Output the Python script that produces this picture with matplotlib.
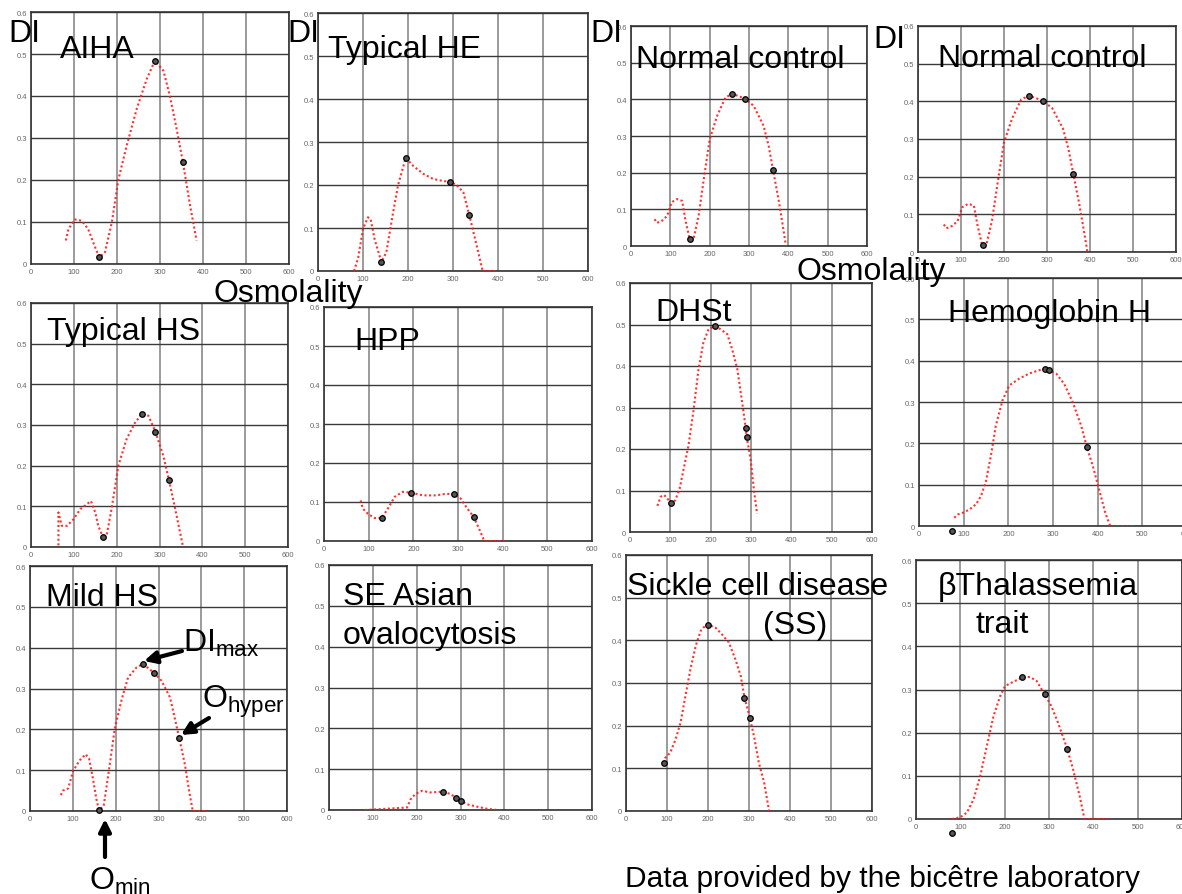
import matplotlib
matplotlib.use("Agg")
import matplotlib.pyplot as plt

plt.rcParams['font.family'] = ['Liberation Sans', 'DejaVu Sans']
plt.rcParams['mathtext.fontset'] = 'custom'
plt.rcParams['mathtext.rm'] = 'Liberation Sans'
plt.rcParams['mathtext.it'] = 'Liberation Sans'

W, H = 1182, 895

x_ticks = [0, 100, 200, 300, 400, 500, 600]
y_ticks = [0, 0.1, 0.2, 0.3, 0.4, 0.5, 0.6]
y_labels = ['0', '0.1', '0.2', '0.3', '0.4', '0.5', '0.6']

# --- data: osmolality (x) vs DI (y) ---
aiha_x = [81, 87, 102, 118, 133, 149, 159, 172, 188, 203, 222, 246, 269, 288, 308, 323, 339, 353, 370, 385]
aiha_y = [0.056, 0.083, 0.106, 0.103, 0.083, 0.040, 0.016, 0.028, 0.099, 0.200, 0.280, 0.370, 0.440, 0.484, 0.460, 0.400, 0.320, 0.244, 0.139, 0.056]
aiha_kx = [159, 288, 353]
aiha_ky = [0.016, 0.484, 0.244]

he_x = [80, 89, 100, 111, 117, 126, 141, 152, 167, 178, 195, 212, 234, 256, 279, 293, 308, 323, 336, 349, 363, 366, 395]
he_y = [0.0, 0.029, 0.098, 0.125, 0.120, 0.073, 0.021, 0.044, 0.137, 0.200, 0.263, 0.244, 0.226, 0.214, 0.209, 0.208, 0.200, 0.183, 0.131, 0.075, 0.013, 0.0, 0.0]
he_kx = [141, 195, 293, 336]
he_ky = [0.021, 0.263, 0.208, 0.131]

nc_x = [60, 66, 79, 92, 103, 117, 130, 138, 149, 159, 172, 185, 200, 219, 240, 258, 290, 312, 337, 350, 361, 375, 386, 394]
nc_y = [0.073, 0.063, 0.069, 0.082, 0.119, 0.128, 0.123, 0.073, 0.019, 0.019, 0.083, 0.182, 0.291, 0.355, 0.405, 0.415, 0.402, 0.382, 0.328, 0.273, 0.208, 0.128, 0.055, 0.0]
nc_kx = [150, 258, 290, 361]
nc_ky = [0.019, 0.415, 0.402, 0.208]

hs_x = [64, 64, 72, 84, 99, 115, 130, 140, 150, 157, 167, 177, 188, 204, 223, 243, 260, 274, 290, 309, 322, 336, 355]
hs_y = [0.004, 0.085, 0.052, 0.052, 0.068, 0.093, 0.105, 0.113, 0.085, 0.052, 0.027, 0.031, 0.093, 0.200, 0.265, 0.306, 0.328, 0.323, 0.285, 0.224, 0.165, 0.097, 0.0]
hs_kx = [167, 260, 290, 322]
hs_ky = [0.025, 0.328, 0.283, 0.165]

hpp_x = [82, 87, 98, 113, 129, 143, 158, 176, 195, 221, 251, 273, 290, 306, 321, 335, 347, 356, 358, 405]
hpp_y = [0.104, 0.083, 0.070, 0.059, 0.059, 0.083, 0.113, 0.126, 0.124, 0.117, 0.117, 0.121, 0.120, 0.109, 0.083, 0.062, 0.032, 0.008, 0.0, 0.0]
hpp_kx = [129, 195, 290, 335]
hpp_ky = [0.059, 0.123, 0.120, 0.062]

dhst_x = [68, 76, 85, 93, 102, 112, 123, 133, 145, 158, 170, 182, 195, 210, 224, 241, 253, 266, 278, 287, 289, 299, 307, 315]
dhst_y = [0.063, 0.085, 0.089, 0.080, 0.070, 0.076, 0.104, 0.152, 0.208, 0.297, 0.393, 0.457, 0.489, 0.496, 0.489, 0.477, 0.441, 0.393, 0.313, 0.250, 0.231, 0.176, 0.104, 0.044]
dhst_kx = [102, 210, 287, 289]
dhst_ky = [0.070, 0.496, 0.250, 0.230]

hbh_x = [79, 87, 98, 113, 128, 139, 150, 161, 172, 187, 202, 225, 247, 269, 281, 290, 307, 325, 344, 363, 376, 389, 404, 417, 428, 482]
hbh_y = [0.020, 0.028, 0.032, 0.040, 0.053, 0.073, 0.109, 0.170, 0.243, 0.304, 0.340, 0.357, 0.369, 0.377, 0.379, 0.377, 0.369, 0.344, 0.300, 0.243, 0.190, 0.146, 0.085, 0.032, 0.0, 0.0]
hbh_kx = [74, 281, 290, 376]
hbh_ky = [-0.013, 0.379, 0.377, 0.190]

mild_x = [72, 77, 89, 101, 116, 130, 138, 147, 155, 161, 172, 186, 198, 214, 229, 249, 264, 290, 307, 327, 348, 362, 372, 380, 411]
mild_y = [0.039, 0.050, 0.055, 0.099, 0.124, 0.139, 0.128, 0.079, 0.029, 0.002, 0.012, 0.112, 0.203, 0.273, 0.327, 0.352, 0.360, 0.338, 0.319, 0.278, 0.181, 0.112, 0.046, 0.0, 0.0]
mild_kx = [161, 264, 290, 348]
mild_ky = [0.002, 0.360, 0.338, 0.180]

sao_x = [82, 178, 186, 197, 212, 231, 247, 261, 277, 290, 301, 315, 338, 361, 384, 390]
sao_y = [0.0, 0.006, 0.026, 0.039, 0.047, 0.043, 0.044, 0.045, 0.039, 0.030, 0.022, 0.014, 0.008, 0.003, 0.0, 0.0]
sao_kx = [261, 290, 301]
sao_ky = [0.045, 0.030, 0.022]

ss_x = [92, 96, 108, 121, 133, 145, 157, 170, 182, 194, 200, 218, 234, 251, 267, 280, 289, 302, 312, 324, 337, 349]
ss_y = [0.113, 0.125, 0.137, 0.168, 0.207, 0.270, 0.332, 0.387, 0.422, 0.435, 0.437, 0.430, 0.414, 0.395, 0.355, 0.316, 0.266, 0.219, 0.176, 0.113, 0.066, 0.0]
ss_kx = [92, 200, 289, 302]
ss_ky = [0.113, 0.437, 0.266, 0.219]

bthal_x = [81, 100, 115, 130, 145, 160, 175, 190, 201, 216, 240, 257, 272, 290, 305, 320, 341, 354, 369, 380, 433]
bthal_y = [0.0, 0.004, 0.015, 0.046, 0.100, 0.170, 0.239, 0.285, 0.308, 0.316, 0.328, 0.329, 0.320, 0.289, 0.262, 0.224, 0.163, 0.116, 0.054, 0.0, 0.0]
bthal_kx = [81, 240, 290, 341]
bthal_ky = [-0.032, 0.328, 0.289, 0.163]

# panel boxes in pixels: left, right, top, bottom
panels = [
    ((31, 289, 13, 265), aiha_x, aiha_y, aiha_kx, aiha_ky),
    ((318, 588, 14, 272), he_x, he_y, he_kx, he_ky),
    ((631, 867, 27, 247), nc_x, nc_y, nc_kx, nc_ky),
    ((918, 1176, 27, 253), nc_x, nc_y, nc_kx, nc_ky),
    ((31, 288, 304, 548), hs_x, hs_y, hs_kx, hs_ky),
    ((324, 592, 308, 542), hpp_x, hpp_y, hpp_kx, hpp_ky),
    ((630, 872, 284, 533), dhst_x, dhst_y, dhst_kx, dhst_ky),
    ((919, 1187, 279, 527), hbh_x, hbh_y, hbh_kx, hbh_ky),
    ((30, 287, 567, 812), mild_x, mild_y, mild_kx, mild_ky),
    ((329, 592, 566, 811), sao_x, sao_y, sao_kx, sao_ky),
    ((626, 872, 556, 812), ss_x, ss_y, ss_kx, ss_ky),
    ((916, 1182, 561, 820), bthal_x, bthal_y, bthal_kx, bthal_ky),
]


def fpos(x, y):
    return x / W, 1 - y / H


fig = plt.figure(figsize=(W / 100, H / 100), dpi=100)

for (l, r, t, b), xs, ys, kx, ky in panels:
    ax = fig.add_axes([l / W, 1 - b / H, (r - l) / W, (b - t) / H])
    ax.set_xlim(0, 600)
    ax.set_ylim(0, 0.6)
    ax.set_xticks(x_ticks)
    ax.set_yticks(y_ticks)
    ax.set_yticklabels(y_labels)
    ax.tick_params(length=0, labelsize=5.5, labelcolor='#666666', pad=3)
    ax.xaxis.grid(True, color='#8a8a8a', lw=1.2)
    ax.yaxis.grid(True, color='#3a3a3a', lw=1.0)
    ax.set_axisbelow(True)
    for s in ax.spines.values():
        s.set_color('#333333')
        s.set_linewidth(1.2)
    ax.plot(xs, ys, color='#ff1a1a', lw=1.5, ls=(0, (1, 1.2)), alpha=0.9, zorder=3)
    ax.plot(kx, ky, 'o', ms=4, mfc='#555555', mec='black', mew=0.9, zorder=4, clip_on=False)

fs = 23
# axis words
for x, y in [(8, 42), (287, 42), (590, 42), (873, 48)]:
    fig.text(*fpos(x, y), 'DI', fontsize=fs, va='baseline')
fig.text(*fpos(213, 302), 'Osmolality', fontsize=fs, va='baseline')
fig.text(*fpos(797, 280), 'Osmolality', fontsize=fs, va='baseline')

# panel titles
titles = [
    (60, 58, 'AIHA'), (328, 58, 'Typical HE'), (636, 68, 'Normal control'),
    (938, 67, 'Normal control'), (47, 340, 'Typical HS'), (354, 350, 'HPP'),
    (655, 321, 'DHSt'), (948, 322, 'Hemoglobin H'), (46, 606, 'Mild HS'),
    (343, 605, 'SE Asian'), (343, 644, 'ovalocytosis'),
    (627, 595, 'Sickle cell disease'), (763, 634, '(SS)'),
    (938, 595, '\u03b2Thalassemia'), (975, 633, 'trait'),
]
for x, y, s in titles:
    fig.text(*fpos(x, y), s, fontsize=fs, va='baseline')

fig.text(*fpos(625, 887), 'Data provided by the bic\u00eatre laboratory', fontsize=21.5, va='baseline')

# annotations on Mild HS
fig.text(*fpos(183, 652), r'DI$_{\mathrm{max}}$', fontsize=fs, va='baseline')
fig.text(*fpos(202, 708), r'O$_{\mathrm{hyper}}$', fontsize=fs, va='baseline')
fig.text(*fpos(89, 890), r'O$_{\mathrm{min}}$', fontsize=fs, va='baseline')

arrow = dict(arrowstyle='-|>', color='black', lw=3, mutation_scale=18, shrinkA=0, shrinkB=0)
for (x0, y0), (x1, y1) in [((182, 652), (144, 662)), ((209, 719), (181, 736)), ((105, 858), (105, 820))]:
    fig.add_artist(matplotlib.patches.FancyArrowPatch(fpos(x0, y0), fpos(x1, y1),
                                                      transform=fig.transFigure, **arrow))

fig.savefig('out.png', dpi=100)
